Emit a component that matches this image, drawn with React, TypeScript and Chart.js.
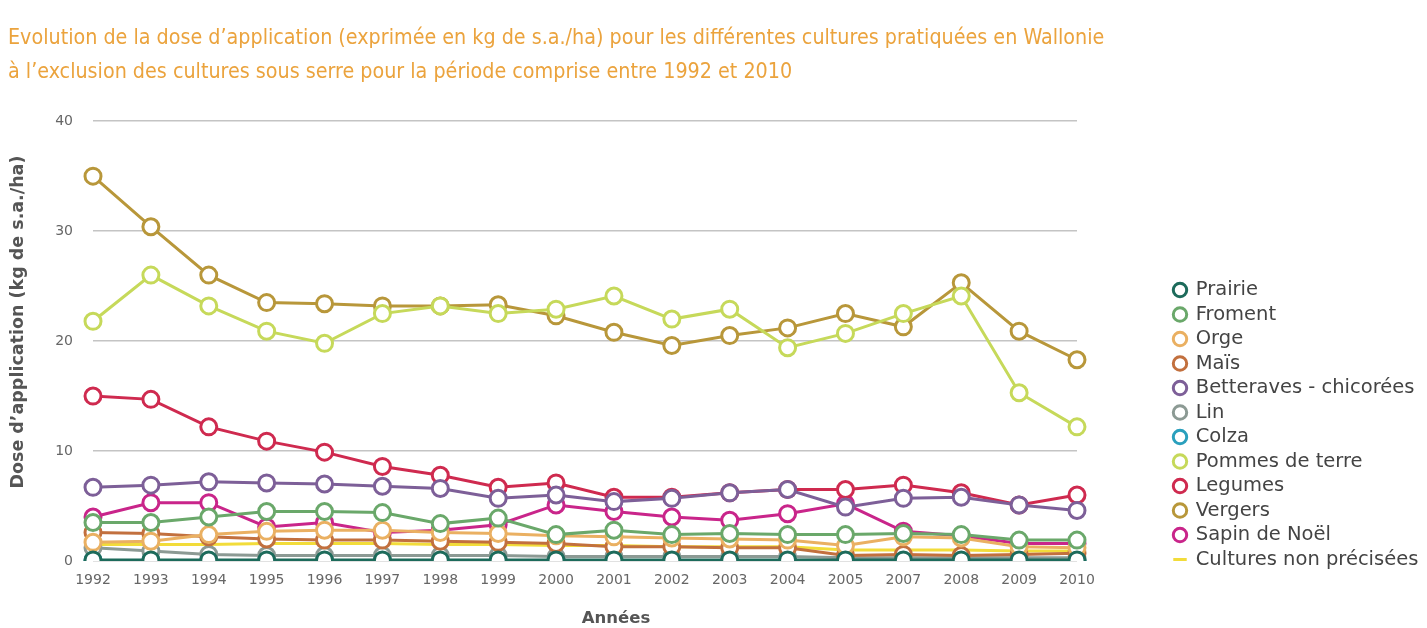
import React, { useEffect, useRef } from "react";
import { Chart, registerables } from "chart.js";

Chart.register(...registerables);

const years = ["1992","1993","1994","1995","1996","1997","1998","1999","2000","2001","2002","2003","2004","2005","2007","2008","2009","2010"];

const prairie = [0.1,0.1,0.1,0.1,0.1,0.1,0.1,0.1,0.1,0.1,0.1,0.1,0.1,0.1,0.1,0.1,0.1,0.1];
const froment = [3.5,3.5,4.0,4.5,4.5,4.4,3.4,3.9,2.4,2.8,2.4,2.5,2.4,2.4,2.5,2.4,1.9,1.9];
const orge = [1.7,1.8,2.4,2.7,2.8,2.8,2.6,2.5,2.3,2.2,2.1,2.0,1.9,1.4,2.2,2.1,1.3,1.2];
const mais = [2.6,2.5,2.2,2.0,1.9,1.9,1.8,1.7,1.6,1.3,1.3,1.2,1.2,0.5,0.6,0.5,0.6,0.7];
const betteraves = [6.7,6.9,7.2,7.1,7.0,6.8,6.6,5.7,6.0,5.4,5.7,6.2,6.5,4.9,5.7,5.8,5.1,4.6];
const lin = [1.2,0.9,0.6,0.5,0.5,0.5,0.5,0.5,0.4,0.4,0.4,0.4,0.4,0.3,0.3,0.3,0.3,0.3];
const colza = [0.05,0.05,0.05,0.05,0.05,0.05,0.05,0.05,0.05,0.05,0.05,0.05,0.05,0.05,0.05,0.05,0.05,0.05];
const pommesDeTerre = [21.8,26.0,23.2,20.9,19.8,22.5,23.2,22.5,22.9,24.1,22.0,22.9,19.4,20.7,22.5,24.1,15.3,12.2];
const legumes = [15.0,14.7,12.2,10.9,9.9,8.6,7.8,6.7,7.1,5.8,5.8,6.2,6.5,6.5,6.9,6.2,5.1,6.0];
const vergers = [35.0,30.4,26.0,23.5,23.4,23.2,23.2,23.3,22.3,20.8,19.6,20.5,21.2,22.5,21.3,25.3,20.9,18.3];
const sapinDeNoel = [4.0,5.3,5.3,3.1,3.5,2.6,2.8,3.3,5.1,4.5,4.0,3.7,4.3,5.2,2.7,2.3,1.6,1.6];
const culturesNonPrecisees = [1.5,1.5,1.5,1.6,1.6,1.6,1.5,1.5,1.4,1.4,1.3,1.3,1.3,1.0,1.0,1.0,0.9,0.9];

const seriesNames = ["Prairie","Froment","Orge","Maïs","Betteraves - chicorées","Lin","Colza","Pommes de terre","Legumes","Vergers","Sapin de Noël","Cultures non précisées"];
const seriesColors = ["#1d6b5b","#6aa86a","#eab062","#c2703e","#7d5f98","#8c9a94","#2aa0bd","#c6d95a","#cf2a4f","#b8973a","#c9258a","#f2dc3a"];
const seriesData = [prairie, froment, orge, mais, betteraves, lin, colza, pommesDeTerre, legumes, vergers, sapinDeNoel, culturesNonPrecisees];

const titleLines = [
  "Evolution de la dose d’application (exprimée en kg de s.a./ha) pour les différentes cultures pratiquées en Wallonie",
  "à l’exclusion des cultures sous serre pour la période comprise entre 1992 et 2010",
];
const xTitle = "Années";
const yTitle = "Dose d’application (kg de s.a./ha)";

const FONT = "'DejaVu Sans', sans-serif";
const LEGEND_BOX_W = 350;
const LEGEND_FONT = 19.5;
const LEGEND_PAD = 5;
const LEGEND_MARK_W = 12;
const LEGEND_MARK_X = 1180;
const LEGEND_FIRST_Y = 290;

export default function App() {
  const ref = useRef<HTMLCanvasElement | null>(null);

  useEffect(() => {
    document.body.style.margin = "0";
    if (!ref.current) return;
    const datasets = seriesNames.map((name, i) => {
      const isLine = i === seriesNames.length - 1;
      return {
        label: name,
        data: seriesData[i],
        borderColor: seriesColors[i],
        backgroundColor: seriesColors[i],
        borderWidth: 3,
        pointRadius: isLine ? 0 : 8,
        pointHoverRadius: isLine ? 0 : 8,
        pointBorderWidth: 3,
        pointBorderColor: seriesColors[i],
        pointBackgroundColor: isLine ? seriesColors[i] : "#ffffff",
        pointStyle: isLine ? "line" : "circle",
        tension: 0,
      };
    });

    const legendPlace = {
      id: "legendPlace",
      beforeLayout(chart: any) {
        const legend = chart.legend;
        if (legend && !legend.__patched) {
          const orig = legend.fit.bind(legend);
          legend.fit = function () {
            orig();
            this.width = LEGEND_BOX_W;
          };
          legend.__patched = true;
        }
      },
      afterLayout(chart: any) {
        const legend = chart.legend;
        if (legend) {
          legend.left = LEGEND_MARK_X - LEGEND_MARK_W / 2 - LEGEND_PAD;
          legend.right = chart.width;
          legend.top = LEGEND_FIRST_Y - LEGEND_FONT / 2 - LEGEND_PAD;
          legend.bottom = chart.height;
        }
      },
    };

    const axisTitles = {
      id: "axisTitles",
      afterDraw(chart: any) {
        const { ctx, chartArea } = chart;
        ctx.save();
        ctx.fillStyle = "#555";
        ctx.textAlign = "center";
        ctx.textBaseline = "middle";
        ctx.font = "bold 16.5px 'DejaVu Sans', sans-serif";
        ctx.fillText(xTitle, (chartArea.left + chartArea.right) / 2 + 31, chartArea.bottom + 58);
        ctx.translate(18, (chartArea.top + chartArea.bottom) / 2 - 19);
        ctx.rotate(-Math.PI / 2);
        ctx.font = "bold 17.5px 'DejaVu Sans', sans-serif";
        ctx.fillText(yTitle, 0, 0);
        ctx.restore();
      },
    };

    const chart = new Chart(ref.current, {
      type: "line",
      data: { labels: years, datasets: datasets as any },
      options: {
        animation: false,
        responsive: false,
        maintainAspectRatio: false,
        layout: { padding: { left: 8, right: 0, top: 0, bottom: 0 } },
        plugins: {
          title: {
            display: true,
            text: titleLines,
            align: "start",
            color: "#eba33d",
            font: { family: "'DejaVu Sans Condensed', sans-serif", size: 21.3, weight: "normal", lineHeight: 1.6 },
            padding: { top: 21, bottom: 32 },
          },
          legend: {
            display: true,
            position: "right",
            align: "start",
            labels: {
              usePointStyle: true,
              boxWidth: LEGEND_MARK_W,
              boxHeight: 9.5,
              padding: LEGEND_PAD,
              color: "#444",
              font: { family: FONT, size: LEGEND_FONT },
            },
          },
          tooltip: { enabled: false },
        },
        scales: {
          x: {
            offset: false,
            grid: { display: false, drawTicks: false },
            border: { display: false },
            ticks: {
              color: "#666",
              font: { family: FONT, size: 14 },
              padding: 11,
              maxRotation: 0,
              autoSkip: false,
            },
            title: { display: false, text: xTitle },
            afterFit(scale: any) {
              scale.height = 67;
            },
          },
          y: {
            min: 0,
            max: 40,
            ticks: {
              stepSize: 10,
              color: "#666",
              font: { family: FONT, size: 14 },
              padding: 20,
            },
            grid: { color: "#c4c4c4", lineWidth: 1.5, drawTicks: false },
            border: { display: false },
            title: { display: false, text: yTitle },
            afterFit(scale: any) {
              scale.width = 85;
            },
          },
        },
      },
      plugins: [legendPlace as any, axisTitles as any],
    });
    return () => chart.destroy();
  }, []);

  return (
    <div style={{ width: 1427, height: 628, background: "#fff" }}>
      <canvas ref={ref} width={1427} height={628} style={{ display: "block" }} />
    </div>
  );
}
